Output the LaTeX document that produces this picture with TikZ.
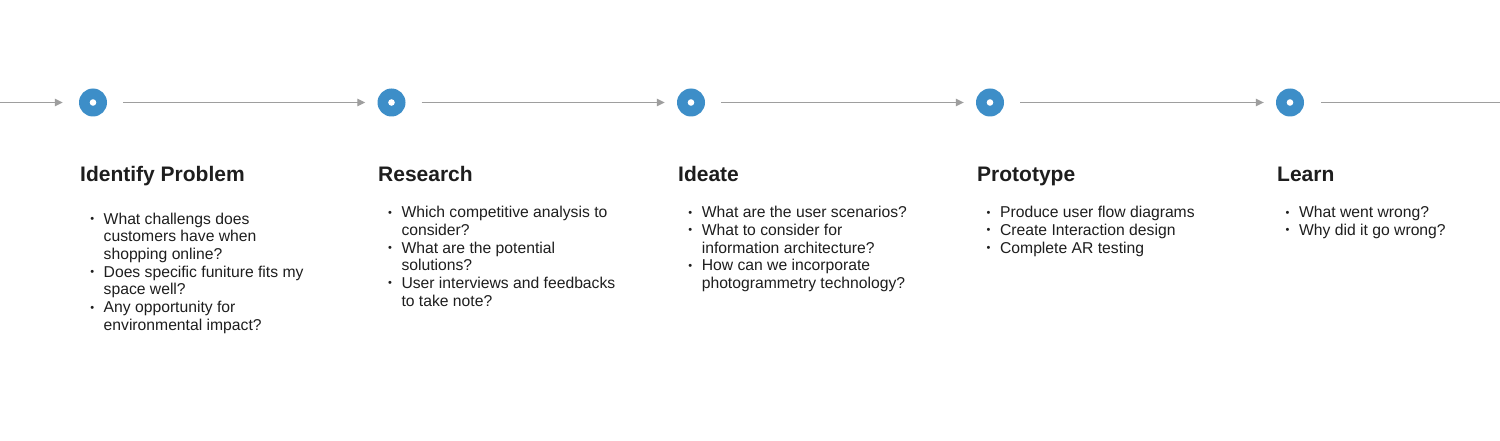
\documentclass[tikz,border=0pt]{standalone}
\usepackage{fontspec}
\setmainfont{Liberation Sans}
\usetikzlibrary{arrows.meta}
\definecolor{dotblue}{HTML}{3D8EC8}
\definecolor{linegray}{HTML}{9E9E9E}
\definecolor{txt}{HTML}{1E1E1E}
\newcommand{\bl}{\makebox[14.3pt][l]{\strut\hspace{0.9pt}\raisebox{1.6pt}{\fontsize{11}{11}\selectfont •}}}
\newcommand{\ind}{\hspace*{14.3pt}}
\begin{document}
\begin{tikzpicture}[x=1pt,y=-1pt,
  stepdot/.style={circle,fill=dotblue,minimum size=28pt,inner sep=0pt},
  link/.style={draw=linegray,line width=1.2pt,-{Triangle[length=8pt,width=7.5pt]}},
  plain/.style={draw=linegray,line width=1.2pt},
  title/.style={anchor=base west,inner sep=0pt,text=txt,font=\fontsize{21}{25}\selectfont\bfseries},
  items/.style={anchor=north west,inner sep=0pt,align=left,text=txt,font=\fontsize{15.7}{17.7}\selectfont}]
\useasboundingbox[fill=white] (0,0) rectangle (1500,441);

% step dots
\node[stepdot] (c1) at (93,102.5) {};
\node[stepdot] (c2) at (391.5,102.5) {};
\node[stepdot] (c3) at (691,102.5) {};
\node[stepdot] (c4) at (990,102.5) {};
\node[stepdot] (c5) at (1290,102.5) {};
\foreach \c in {c1,c2,c3,c4,c5} \fill[white] (\c) circle (3.3);

% connectors
\coordinate (s) at (0,102.5);
\coordinate (e) at (1500,102.5);
\draw[link,shorten >=16pt] (s) -- (c1);
\draw[link,shorten <=16pt,shorten >=12pt] (c1) -- (c2);
\draw[link,shorten <=16pt,shorten >=12pt] (c2) -- (c3);
\draw[link,shorten <=16pt,shorten >=12pt] (c3) -- (c4);
\draw[link,shorten <=16pt,shorten >=12pt] (c4) -- (c5);
\draw[plain,shorten <=17pt] (c5) -- (e);

% titles
\node[title] (t1) at (80,182) {Identify Problem};
\node[title] (t2) at (378,182) {Research};
\node[title] (t3) at (678,182) {Ideate};
\node[title] (t4) at (977,182) {Prototype};
\node[title] (t5) at (1277,182) {Learn};

% bullet lists
\node[items] (l1) at (89.2,211.6) {\bl What challengs does\\ \ind customers have when\\ \ind shopping online?\\ \bl Does specific funiture fits my\\ \ind space well?\\ \bl Any opportunity for\\ \ind environmental impact?};
\node[items] (l2) at (387,205.1) {\bl Which competitive analysis to\\ \ind consider?\\ \bl What are the potential\\ \ind solutions?\\ \bl User interviews and feedbacks\\ \ind to take note?};
\node[items] (l3) at (687.3,205.1) {\bl What are the user scenarios?\\ \bl What to consider for\\ \ind information architecture?\\ \bl How can we incorporate\\ \ind photogrammetry technology?};
\node[items] (l4) at (985.6,205.1) {\bl Produce user flow diagrams\\ \bl Create Interaction design\\ \bl Complete AR testing};
\node[items] (l5) at (1284.6,205.1) {\bl What went wrong?\\ \bl Why did it go wrong?};
\end{tikzpicture}
\end{document}
